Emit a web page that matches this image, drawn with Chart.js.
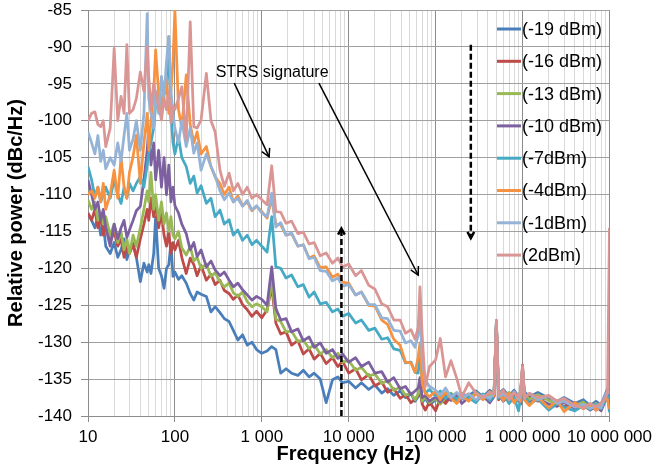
<!DOCTYPE html>
<html>
<head>
<meta charset="utf-8">
<script src="https://cdn.jsdelivr.net/npm/chart.js@4"></script>
<style>
  body { margin: 0; background: #fff; }
  canvas { display: block; }
</style>
</head>
<body>
<canvas id="noiseChart" width="657" height="472"></canvas>
<script>
// Frequency points (Hz), shared by every trace
const freq = [
  10, 11, 12, 13, 14, 15, 16, 18, 20, 22, 24, 26, 28, 30, 33, 36, 40, 44, 48, 50, 53, 57, 60, 65, 70, 75, 80, 85, 90, 95,
  100, 110, 120, 135, 150, 165, 180, 200, 230, 260, 290, 330, 370, 420, 470, 530, 600, 680, 770, 870,
  1000, 1150, 1300, 1450, 1650, 1900, 2200, 2600, 3000, 3500, 4000, 4700, 5500, 6500, 7500, 8500,
  10000, 12000, 14000, 17000, 20000, 24000, 28000, 33000, 39000, 45000, 52000, 58000, 63000, 66000, 70000, 76000, 85000,
  100000, 113000, 130000, 150000, 175000, 200000, 240000, 290000, 350000, 420000, 470000, 500000, 530000, 600000, 700000, 800000, 900000, 950000,
  1000000, 1050000, 1200000, 1500000, 2000000, 2500000, 3000000, 4000000, 5000000, 6000000, 7000000, 8000000, 9000000, 9500000, 10000000
];

// Relative power (dBc/Hz) per drive level
const minus19 = [
  -112.5, -113.5, -114.5, -113, -115.5, -114, -117, -118, -116.5, -118.5, -117.5, -116, -118.8, -117.5, -116.6, -118.5, -121.8, -119.3, -120.5, -119.5, -120.7, -118, -113, -120, -121, -122.7, -120, -119.5, -116.6, -121.1,
  -120.5, -121.5, -121, -122, -123.4, -124.3, -123.2, -123.5, -123.8, -125.9, -125.2, -126, -126.8, -127.2, -128.4, -129.7, -129, -130.4, -130, -131,
  -131.5, -131.2, -130.6, -131, -134.2, -133.6, -134.2, -134.5, -133.8, -134.7, -134.2, -135, -138.2, -135.1, -134.7, -135.5,
  -135.3, -136.2, -135.5, -136.4, -135.8, -136.9, -136.3, -137.2, -136.6, -137.5, -137, -138, -137.4, -136.5, -138.2, -137.6, -138.5,
  -137.8, -137.3, -138, -137.4, -136.9, -137.7, -137.2, -136.6, -137.4, -136.5, -137.1, -127.1, -137, -136.4, -137.3, -136.5, -137.4, -136.8,
  -133.4, -136.7, -137.4, -136.8, -137.6, -138, -137.5, -138.3, -137.8, -138.6, -138, -138.5, -137, -136.3, -137.2
];
const minus16 = [
  -112.5, -113.5, -112, -114.5, -113, -115.5, -114, -116.5, -115, -117, -116, -118.5, -117, -118, -116.8, -118.5, -116, -114, -112, -113.5, -110.5, -113, -111, -114.5, -112.5, -115.5, -117, -115, -118, -116.5,
  -117.5, -116.2, -118.5, -120.7, -118.6, -119.5, -121, -119.6, -121.6, -120.8, -122.2, -121.6, -123, -123.4, -124.2, -123.6, -124.9, -125.6, -126.5, -125.8,
  -126.7, -125.6, -122.5, -127.4, -128.9, -128.6, -130.4, -129.8, -131.6, -130.9, -132.3, -131.5, -132.9, -132.1, -133.3, -132.6,
  -134.2, -133.6, -135.1, -134.4, -135.9, -135.4, -136.8, -136.3, -137.6, -137.1, -138.2, -137.7, -137.2, -136, -138.4, -139.2, -138.1,
  -139.3, -137.6, -138.3, -137.3, -138.2, -137.5, -137, -137.9, -137.1, -137.8, -137.3, -127.3, -137.8, -136.6, -137.7, -137.2, -138, -137,
  -133.1, -137.5, -137.1, -138, -137.4, -138.2, -138.7, -138.2, -139, -138.5, -139.2, -138.4, -137.6, -137.1, -138.3
];
const minus13 = [
  -110.7, -112, -111, -113.5, -112.5, -114, -113, -115.5, -114, -116.5, -115, -117.5, -116, -118, -115.5, -117, -114.5, -112, -109.5, -111, -107, -112, -110, -113.5, -111, -114, -112.5, -115, -113, -115.5,
  -116, -115, -117.2, -118.2, -117, -119, -118.5, -120, -119.4, -121.1, -120.6, -121.8, -122.5, -122, -123.3, -123.8, -123.2, -124.5, -125.2, -124.8,
  -125.2, -125.9, -121.6, -126.9, -127.2, -128.6, -128.5, -129.9, -129.7, -130.9, -130.3, -131.6, -131, -132.1, -131.5, -132.7,
  -132.5, -133.8, -133.4, -134.6, -134.3, -135.6, -135.2, -136.5, -136.1, -137.2, -136.9, -137.8, -137, -135.6, -138, -137.4, -138.2,
  -137.6, -138.4, -137.5, -136.9, -137.6, -137, -137.8, -136.8, -137.6, -137.1, -136.8, -127.6, -136.6, -137.4, -136.8, -137.7, -137, -137.8,
  -133.6, -137, -137.8, -137.1, -137.9, -138.4, -137.8, -138.6, -138.1, -138.9, -138.3, -138.7, -137.8, -137.2, -138
];
const minus10 = [
  -108, -110, -112, -111, -113.5, -112, -114.5, -117, -114, -116, -114.5, -113.5, -115.8, -114.8, -113.5, -112.2, -111.6, -108, -104, -101, -106, -103, -108, -104, -109, -105, -110, -106, -111, -109,
  -111.5, -112.5, -114, -115.3, -117.5, -116.5, -118.4, -117.5, -119.8, -119, -120.2, -121, -120.5, -121.6, -122.5, -122, -122.9, -123.6, -124.3, -123.8,
  -124.2, -125, -119.8, -125.4, -127, -126.8, -128.6, -128.2, -129.8, -129.3, -130.7, -130.1, -131.5, -131, -132.2, -131.6,
  -132.7, -132.1, -133.3, -132.7, -134.2, -134, -135.4, -134.8, -136.3, -136, -137.1, -136.6, -136.2, -134.8, -137.5, -137.2, -138,
  -137.4, -138.1, -137.3, -137.9, -137.1, -138.3, -137.5, -137.9, -137.3, -138.2, -137.4, -127.6, -137.1, -138, -137.3, -138.1, -137.6, -138.4,
  -134.2, -137.5, -138.2, -137.6, -138.4, -138.7, -138.1, -139, -138.5, -139.2, -138.7, -139.3, -137.9, -137, -138.5
];
const minus7 = [
  -106.2, -108, -110.3, -109, -111, -110, -109, -110.5, -108, -110, -111.2, -109, -110.5, -108.5, -109.5, -108.5, -107.6, -109, -106, -104.4, -103, -101, -98, -96.3, -99, -95, -96.3, -88.6, -99, -103,
  -104.5, -102.2, -105, -106.2, -108.5, -107.5, -109.8, -108.8, -111.2, -110.5, -113, -112.1, -114, -113.4, -115.5, -114.8, -116.2, -115.5, -116.8, -116.2,
  -117, -117.8, -113, -119.8, -120, -121.3, -120.9, -122.5, -122.2, -123.9, -123.2, -124.8, -124.6, -125.9, -125.5, -126.5,
  -126.1, -127.4, -127, -128.4, -128.1, -129.6, -129.4, -130.9, -131.1, -132.8, -132.7, -134.1, -134.2, -131.5, -135.1, -136.9, -136.4,
  -137.3, -136.6, -137.6, -137, -137.8, -136.9, -137.5, -138.2, -137, -137.9, -137.2, -127.4, -137.6, -136.9, -138.3, -137.5, -139.3, -137.6,
  -134, -137.2, -138.4, -137.7, -139.2, -138.3, -138.8, -139.3, -138.6, -139.1, -138.4, -139, -137.8, -137.3, -139.5
];
const minus4 = [
  -110, -109.5, -110.5, -109, -111, -108.5, -112, -110, -106.7, -110.5, -104.9, -109, -110.5, -107, -104.9, -102, -108.5, -103, -99, -104, -100, -96, -90.4, -96.3, -98.5, -95, -94, -99, -96, -92,
  -85, -98.5, -101, -93.8, -100.5, -103, -101.5, -104.5, -103.5, -106.2, -107.6, -108.5, -110, -109, -111, -110.2, -111.5, -111, -112.2, -111.6,
  -112.3, -113.2, -110.5, -114, -114.1, -115.5, -115.3, -117, -116.8, -118.6, -118.3, -119.9, -119.8, -121.2, -120.8, -121.9,
  -122, -123.6, -123.2, -125, -125.1, -127, -127.6, -129.6, -130.4, -132.7, -132.8, -134.1, -132, -130.1, -135.6, -136.9, -137.4,
  -136.6, -137.8, -136.8, -137.6, -138.3, -137.2, -138, -137, -137.8, -136.7, -137.3, -127.5, -136.8, -137.9, -136.9, -138.2, -137.2, -138,
  -133.8, -137.8, -138.6, -137.4, -138.9, -137.9, -139.4, -138.2, -139, -138.5, -139.2, -138.7, -137.5, -137.8, -139
];
const minus1 = [
  -101.5, -103, -104.5, -102, -105.5, -104, -106.5, -105, -106, -103, -105.5, -102, -99, -104, -102.5, -100, -104, -99, -85.5, -97, -99, -101, -96, -99, -94, -97, -92, -88.6, -96, -99,
  -101, -103, -100, -103.5, -101, -104.4, -103, -106.7, -104.5, -106.2, -107.5, -109.5, -110.7, -109.8, -111, -110.5, -111.6, -110.8, -112.1, -111.5,
  -112.5, -113, -109.8, -114.4, -113.8, -115.5, -115.2, -117, -116.8, -118.7, -118.5, -120.3, -120.4, -121.7, -121.3, -122.4,
  -122.2, -123.6, -123.2, -124.9, -124.9, -126.7, -126.8, -128.4, -128.5, -130.1, -129.8, -130.7, -129, -125.6, -132.4, -135.1, -136,
  -136.5, -137.2, -136.2, -137.5, -136.8, -137.6, -137, -137.8, -137.2, -137.6, -136.9, -127.2, -137.4, -137, -137.6, -136.7, -137.8, -137.1,
  -133.5, -137.4, -137, -137.8, -137.3, -138.3, -138, -138.8, -138.4, -139, -138.6, -138.9, -137.2, -136.5, -137
];
const plus2 = [
  -100, -99, -98.8, -100.5, -100.8, -100, -103.5, -101, -90.2, -100, -96.7, -99, -89.7, -99, -98.5, -97, -93.4, -96, -90, -94, -98.5, -95, -96.3, -98, -99.9, -97, -98.5, -96, -100.3, -98,
  -98.5, -97, -95.4, -102.6, -86.6, -100.8, -101, -99.9, -93.6, -100, -101.5, -106.7, -108.9, -107.1, -109.5, -108.5, -110, -109, -110.5, -110,
  -110.7, -111.4, -106.1, -112.3, -112.4, -113.9, -113.6, -115.3, -115.1, -116.7, -116.5, -118.3, -117.9, -119.3, -118.6, -119.8,
  -119.4, -121, -120.3, -122.3, -122.8, -124.8, -125.2, -127, -127, -128.8, -128.3, -129.6, -128, -122.5, -129, -136, -133.3,
  -132.4, -129.5, -134.7, -132.5, -134.9, -137.4, -135.5, -136.9, -137.5, -136.8, -137, -127, -137.2, -136.5, -137.8, -136.8, -137.5, -136.5,
  -133.2, -137.6, -136.9, -137.5, -137.2, -138, -137.6, -138.6, -138.9, -138.3, -138.8, -138.2, -137.5, -136.8, -114.5
];

const seriesValues = [minus19, minus16, minus13, minus10, minus7, minus4, minus1, plus2];
const seriesLabels = ["(-19 dBm)", "(-16 dBm)", "(-13 dBm)", "(-10 dBm)", "(-7dBm)", "(-4dBm)", "(-1dBm)", "(2dBm)"];
const seriesColors = ["#4a7ebb", "#be4b48", "#98b954", "#7d60a0", "#46aac5", "#f69240", "#95b3d7", "#d99694"];

// Axis ticks
const decadeValues = [10, 100, 1000, 10000, 100000, 1000000, 10000000];
const decadeLabels = ["10", "100", "1 000", "10 000", "100 000", "1 000 000", "10 000 000"];

// Annotations (frequency, dBc/Hz)
const noteText = "STRS signature";
const notePos = [1313, -93.5];
const strsArrows = [[482, -94.9, 1213, -104.9], [4540, -94.9, 63000, -120.9]];
const dashedArrows = [[8240, -140, 8240, -114.6], [254000, -89.7, 254000, -115.9]];

Chart.defaults.font.family = "'Liberation Sans', Arial, sans-serif";
Chart.defaults.color = "#000";

const isDecade = (v) => decadeValues.includes(v);

function drawArrow(ctx, x1, y1, x2, y2, head, dash) {
    ctx.setLineDash(dash);
    ctx.beginPath();
    ctx.moveTo(x1, y1);
    ctx.lineTo(x2, y2);
    ctx.stroke();
    ctx.setLineDash([]);
    const ang = Math.atan2(y2 - y1, x2 - x1);
    ctx.beginPath();
    ctx.moveTo(x2 - head * Math.cos(ang - 0.5), y2 - head * Math.sin(ang - 0.5));
    ctx.lineTo(x2, y2);
    ctx.lineTo(x2 - head * Math.cos(ang + 0.5), y2 - head * Math.sin(ang + 0.5));
    ctx.stroke();
}

// Legend + notes drawn over the plot, like the original
const overlay = {
    id: "overlay",
    afterDatasetsDraw(chart) {
        const { ctx, scales: { x, y } } = chart;
        ctx.save();
        ctx.strokeStyle = "#000";
        ctx.lineWidth = 1.5;
        strsArrows.forEach((a) => {
            drawArrow(ctx, x.getPixelForValue(a[0]), y.getPixelForValue(a[1]),
                x.getPixelForValue(a[2]), y.getPixelForValue(a[3]), 9, []);
        });
        ctx.lineWidth = 2.5;
        dashedArrows.forEach((a) => {
            drawArrow(ctx, x.getPixelForValue(a[0]), y.getPixelForValue(a[1]),
                x.getPixelForValue(a[2]), y.getPixelForValue(a[3]), 7, [6, 3]);
        });

        ctx.fillStyle = "#000";
        ctx.font = "16px 'Liberation Sans', Arial, sans-serif";
        ctx.textAlign = "center";
        ctx.textBaseline = "middle";
        ctx.fillText(noteText, x.getPixelForValue(notePos[0]), y.getPixelForValue(notePos[1]));

        // legend
        ctx.font = "18px 'Liberation Sans', Arial, sans-serif";
        ctx.textAlign = "left";
        ctx.lineWidth = 3;
        chart.data.datasets.forEach((ds, i) => {
            const ly = 29 + i * 32.3;
            ctx.strokeStyle = ds.borderColor;
            ctx.beginPath();
            ctx.moveTo(497, ly);
            ctx.lineTo(521, ly);
            ctx.stroke();
            ctx.fillText(ds.label, 522, ly + 1);
        });
        ctx.restore();
    }
};

new Chart(document.getElementById("noiseChart"), {
    type: "line",
    data: {
        datasets: seriesValues.map((vals, i) => ({
            label: seriesLabels[i],
            data: vals.map((v, j) => ({ x: freq[j], y: v })),
            borderColor: seriesColors[i],
            backgroundColor: seriesColors[i],
            borderWidth: 2.75,
            borderJoinStyle: "round",
            pointRadius: 0,
            tension: 0,
            order: seriesValues.length - 1 - i,
        })),
    },
    options: {
        responsive: false,
        animation: false,
        layout: { padding: { top: 10, right: 45, left: 0, bottom: 0 } },
        plugins: { legend: { display: false }, tooltip: { enabled: false } },
        scales: {
            x: {
                type: "logarithmic",
                min: 10,
                max: 10000000,
                afterBuildTicks: (scale) => {
                    // keep 1..9 x 10^n only
                    scale.ticks = scale.ticks.filter((t) => {
                        const m = t.value / Math.pow(10, Math.floor(Math.log10(t.value) + 1e-9));
                        return Math.abs(m - Math.round(m)) < 1e-6;
                    });
                },
                afterFit: (scale) => { scale.height = 56; },
                border: { color: "#8c8c8c" },
                grid: {
                    color: (c) => (c.tick && isDecade(c.tick.value) ? "#8c8c8c" : "#d9d9d9"),
                    tickColor: (c) => (c.tick && isDecade(c.tick.value) ? "#8c8c8c" : "rgba(0,0,0,0)"),
                    tickLength: 6,
                },
                ticks: {
                    autoSkip: false,
                    maxRotation: 0,
                    padding: 5,
                    font: { size: 17 },
                    callback: (value) => {
                        const k = decadeValues.indexOf(value);
                        return k >= 0 ? decadeLabels[k] : "";
                    },
                },
                title: {
                    display: true,
                    text: "Frequency (Hz)",
                    font: { size: 20, weight: "bold" },
                    padding: { top: 4, bottom: 6 },
                },
            },
            y: {
                min: -140,
                max: -85,
                afterFit: (scale) => {
                    scale.width = 88;
                    scale.paddingTop = 0;
                    scale.paddingBottom = 0;
                },
                border: { color: "#8c8c8c" },
                grid: { color: "#a0a0a0", tickColor: "#8c8c8c", tickLength: 7 },
                ticks: { stepSize: 5, padding: 9, font: { size: 17 } },
                title: {
                    display: true,
                    text: "Relative power (dBc/Hz)",
                    font: { size: 20, weight: "bold" },
                    padding: { top: 4, bottom: 4 },
                },
            },
        },
    },
    plugins: [overlay],
});
</script>
</body>
</html>
